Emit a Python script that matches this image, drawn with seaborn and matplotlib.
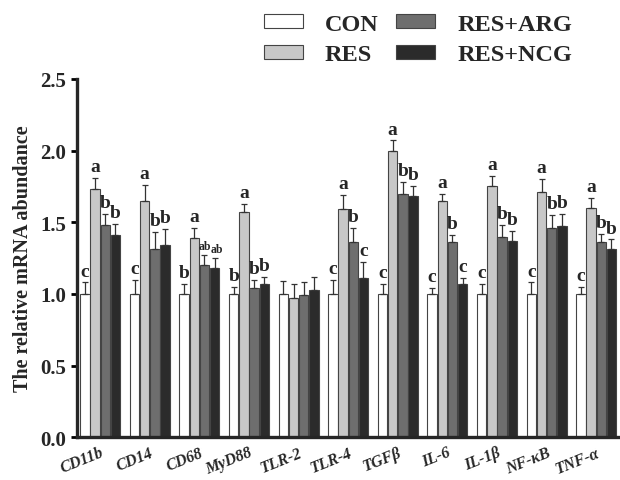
import matplotlib
matplotlib.use('Agg')
import matplotlib.pyplot as plt
import seaborn as sns
import pandas as pd

genes = ['CD11b', 'CD14', 'CD68', 'MyD88', 'TLR-2', 'TLR-4', 'TGFβ', 'IL-6', 'IL-1β', 'NF-κB', 'TNF-α']
groups = ['CON', 'RES', 'RES+ARG', 'RES+NCG']

con = [1.00, 1.00, 1.00, 1.00, 1.00, 1.00, 1.00, 1.00, 1.00, 1.00, 1.00]
res = [1.73, 1.65, 1.39, 1.57, 0.97, 1.59, 2.00, 1.65, 1.75, 1.71, 1.60]
arg = [1.48, 1.31, 1.20, 1.04, 0.99, 1.36, 1.70, 1.36, 1.40, 1.46, 1.36]
ncg = [1.41, 1.34, 1.18, 1.07, 1.03, 1.11, 1.68, 1.07, 1.37, 1.47, 1.31]

con_sd = [0.08, 0.10, 0.07, 0.05, 0.09, 0.10, 0.07, 0.04, 0.07, 0.08, 0.05]
res_sd = [0.08, 0.11, 0.07, 0.06, 0.10, 0.10, 0.07, 0.05, 0.07, 0.09, 0.07]
arg_sd = [0.08, 0.12, 0.07, 0.06, 0.09, 0.10, 0.08, 0.05, 0.08, 0.09, 0.06]
ncg_sd = [0.08, 0.11, 0.07, 0.05, 0.09, 0.11, 0.07, 0.04, 0.07, 0.09, 0.07]

con_sig = ['c', 'c', 'b', 'b', '', 'c', 'c', 'c', 'c', 'c', 'c']
res_sig = ['a', 'a', 'a', 'a', '', 'a', 'a', 'a', 'a', 'a', 'a']
arg_sig = ['b', 'b', 'ab', 'b', '', 'b', 'b', 'b', 'b', 'b', 'b']
ncg_sig = ['b', 'b', 'ab', 'b', '', 'c', 'b', 'c', 'b', 'b', 'b']

colors = ['#ffffff', '#c8c8c8', '#6e6e6e', '#2b2b2b']

df = pd.concat([
    pd.DataFrame({'gene': genes, 'value': v, 'group': g})
    for g, v in zip(groups, [con, res, arg, ncg])
])
sds = [con_sd, res_sd, arg_sd, ncg_sd]
sigs = [con_sig, res_sig, arg_sig, ncg_sig]

sns.set_style('ticks')
plt.rcParams['font.family'] = ['Liberation Serif', 'DejaVu Serif']
plt.rcParams['font.weight'] = 'bold'

fig = plt.figure(figsize=(6.2, 4.81), dpi=100)
ax = fig.add_axes([0.124, 0.089, 0.876, 0.745])

sns.barplot(data=df, x='gene', y='value', hue='group', hue_order=groups,
            palette=colors, width=0.82, gap=0.08, edgecolor='#444444',
            linewidth=0.8, errorbar=None, ax=ax)

bar_sets = list(ax.containers)
for k, cont in enumerate(bar_sets):
    xs = [b.get_x() + b.get_width() / 2 for b in cont]
    ys = [b.get_height() for b in cont]
    ax.errorbar(xs, ys, yerr=[[0] * len(ys), sds[k]], fmt='none',
                ecolor='#333333', elinewidth=0.9, capsize=2.5, capthick=0.9)
    for x, y, s, lab in zip(xs, ys, sds[k], sigs[k]):
        if lab:
            small = len(lab) > 1
            ax.text(x + (0.05 if small and k == 3 else 0), y + s + 0.02, lab,
                    ha='center', va='bottom', clip_on=False,
                    fontsize=8.5 if small else 14, fontweight='bold')

ax.set_ylim(0, 2.5)
ax.set_xlim(-0.47, 10.48)
ax.set_yticks([0, 0.5, 1.0, 1.5, 2.0, 2.5])
ax.set_yticklabels(['0.0', '0.5', '1.0', '1.5', '2.0', '2.5'], fontsize=15, fontweight='bold')
ax.set_xlabel('')
ax.set_ylabel('The relative mRNA abundance', fontsize=14.5, fontweight='bold', labelpad=5)
ax.tick_params(axis='y', direction='out', length=4.5, width=2, color='black')
ax.tick_params(axis='x', length=0, pad=5)
ax.set_xticks(range(len(genes)))
ax.set_xticklabels(genes, rotation=22, ha='right', rotation_mode='anchor',
                   fontsize=11.5, fontstyle='italic', fontweight='bold')
sns.despine(ax=ax)
ax.spines['left'].set_linewidth(2.4)
ax.spines['bottom'].set_linewidth(2.4)

handles, labels = ax.get_legend_handles_labels()
ax.legend_.remove()
fig.legend(handles, labels, ncol=2, loc='upper left', bbox_to_anchor=(0.39, 1.015),
           frameon=False, prop={'family': 'Liberation Serif', 'weight': 'bold', 'size': 17.5},
           handlelength=1.6, handleheight=0.5, handletextpad=0.9, columnspacing=0.75,
           labelspacing=0.4)

fig.savefig('out.png', dpi=100)
